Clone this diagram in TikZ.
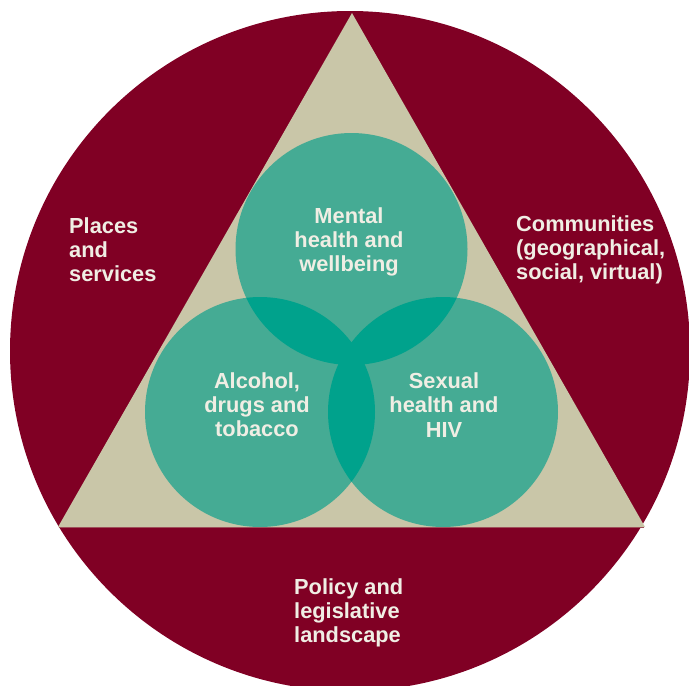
\documentclass[tikz,border=0pt]{standalone}
\usepackage{fontspec}
\setmainfont{Liberation Sans}
\definecolor{ringred}{RGB}{128,0,36}
\definecolor{beige}{RGB}{201,198,168}
\definecolor{teal}{RGB}{69,171,148}
\definecolor{tealdark}{RGB}{0,162,140}
\definecolor{txt}{RGB}{240,238,228}
\begin{document}
\begin{tikzpicture}[x=1pt,y=-1pt,
  lab/.style={text=txt,inner sep=0pt,font=\fontsize{21.8}{24.2}\selectfont\bfseries},
  ctr/.style={lab,align=center},
  lft/.style={lab,align=left}]
\useasboundingbox (0,0) rectangle (689,686);
\coordinate (O) at (350,351);
\coordinate (A) at (352,13);
\coordinate (B) at (58,527);
\coordinate (C) at (645,527);
\coordinate (T) at (351.5,249);
\coordinate (L) at (260,412);
\coordinate (R) at (443,412);
\fill[ringred] (O) circle[radius=340pt];
\fill[beige] (A) -- (B) -- (C) -- cycle;
\draw[ringred!60!beige,line width=0.6pt,shorten >=1pt,shorten <=1pt] (B) -- (C);
\fill[teal] (T) circle[radius=116pt];
\fill[teal] (L) circle[radius=115pt];
\fill[teal] (R) circle[radius=115pt];
\begin{scope}
  \clip (T) circle[radius=116pt];
  \fill[tealdark] (L) circle[radius=115pt];
  \fill[tealdark] (R) circle[radius=115pt];
\end{scope}
\begin{scope}
  \clip (L) circle[radius=115pt];
  \fill[tealdark] (R) circle[radius=115pt];
\end{scope}
\node[ctr] (mental) at (349,242) {Mental\\health and\\wellbeing};
\node[ctr] (alcohol) at (257,405) {Alcohol,\\drugs and\\tobacco};
\node[ctr] (sexual) at (444,405) {Sexual\\health and\\HIV};
\node[lft,anchor=west] (places) at (69,250) {Places\\and\\services};
\node[lft,anchor=west] (comm) at (516,250) {Communities\\(geographical,\\social, virtual)};
\node[lft,anchor=west] (policy) at (294,613) {Policy and\\legislative\\landscape};
\end{tikzpicture}
\end{document}
